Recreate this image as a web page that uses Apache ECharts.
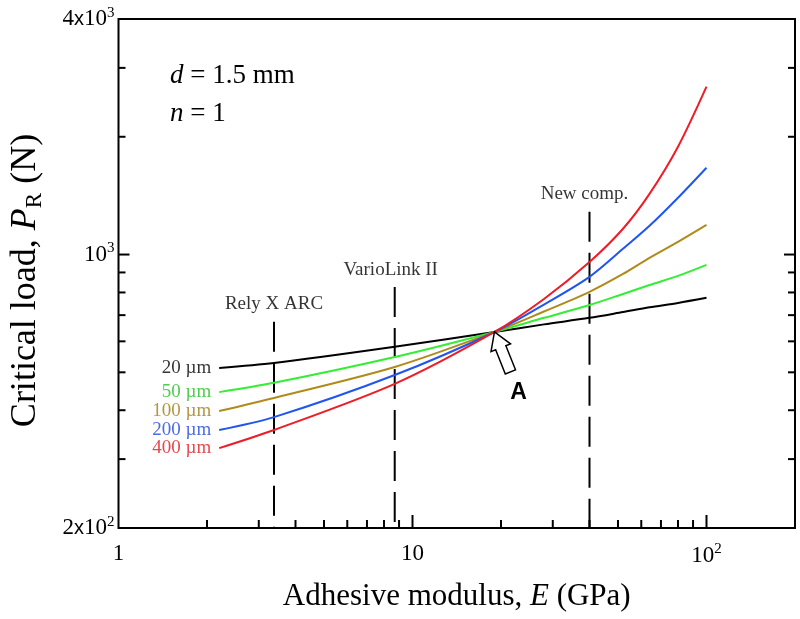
<!DOCTYPE html>
<html>
<head>
<meta charset="utf-8">
<script src="https://cdn.jsdelivr.net/npm/echarts@6/dist/echarts.min.js"></script>
<style>
html,body{margin:0;padding:0;background:#fff;}
#chart{width:800px;height:619px;}
</style>
</head>
<body>
<div id="chart"></div>
<script>
// ---- data ----
const modulusE = [2.2, 3.38, 8.7, 19, 28, 40, 52, 64, 80, 100];      // GPa
const load20  = [513, 528, 581, 634, 663, 689, 713, 733, 752, 775];
const load50  = [445, 470, 547, 634, 689, 743, 793, 836, 882, 941];
const load100 = [398, 430, 516, 634, 715, 803, 892, 981, 1078, 1191];
const load200 = [356, 384, 492, 634, 745, 877, 1034, 1184, 1397, 1667];
const load400 = [320, 356, 467, 634, 770, 957, 1164, 1429, 1886, 2686];
const seriesNames = ['20 \u00b5m', '50 \u00b5m', '100 \u00b5m', '200 \u00b5m', '400 \u00b5m'];
const seriesColors = ['#000000', '#33ee33', '#b08a1a', '#1f55f0', '#ee1c25'];
const labelColors = ['#000000', '#22c022', '#a07c14', '#1f45e0', '#e01820'];

const markerNames = ['Rely X ARC', 'VarioLink II', 'New comp.'];
const markerE = [3.38, 8.7, 40];
const markerTop = [673, 826, 1287];

const crossPoint = [19, 634];

const xRange = [1, 200];
const yRange = [200, 4000];
const xMinorTicks = [2,3,4,5,6,7,8,9,20,30,40,50,60,70,80,90];
const xMajorTicks = [10, 100];
const yMinorTicks = [300,400,500,600,700,800,900,2000,3000];
const yMajorTicks = [1000];
const xTickLabels = {1: '{b|1}', 10: '{b|10}', 100: '{b|10}{s|2}'};
const yTickLabels = {200: '{b|2}{x|x}{b|10}{s|2}', 1000: '{b|10}{s|3}', 4000: '{b|4}{x|x}{b|10}{s|3}'};

// ---- build ----
const SERIF = '"Liberation Serif","Times New Roman",serif';
const SANS = '"Liberation Sans",Arial,sans-serif';
const loads = [load20, load50, load100, load200, load400];

const tickData = [];
xMinorTicks.forEach(v => tickData.push([v, yRange[0], 8, 0]));
xMajorTicks.forEach(v => tickData.push([v, yRange[0], 13, 0]));
yMinorTicks.forEach(v => { tickData.push([xRange[0], v, 7, 1]); tickData.push([xRange[1], v, 7, 2]); });
yMajorTicks.forEach(v => { tickData.push([xRange[0], v, 11, 1]); tickData.push([xRange[1], v, 11, 2]); });

const labelRich = {
  b: {fontFamily: SERIF, fontSize: 23, color: '#000'},
  x: {fontFamily: SANS, fontSize: 20, color: '#000'},
  s: {fontFamily: SERIF, fontSize: 15, color: '#000', padding: [0, 0, 12, 0]}
};

const series = [];
loads.forEach((arr, i) => {
  series.push({
    type: 'line', name: seriesNames[i], smooth: 0.3, showSymbol: false, silent: true,
    data: modulusE.map((e, k) => [e, arr[k]]),
    lineStyle: {color: seriesColors[i], width: 2}, z: 5
  });
});
// left-side series labels
series.push({
  type: 'scatter', symbolSize: 0, silent: true,
  data: loads.map((arr, i) => ({
    value: [modulusE[0], arr[0]],
    label: {show: true, position: 'left', distance: 8, formatter: seriesNames[i],
            color: labelColors[i], fontFamily: SERIF, fontSize: 19}
  }))
});
// dashed product markers
markerE.forEach((e, i) => {
  series.push({
    type: 'line', showSymbol: false, silent: true,
    data: [[e, markerTop[i]], [e, yRange[0]]],
    lineStyle: {color: '#000', width: 2, type: [30, 11]}, z: 3
  });
});
const markerLabelOffset = [[0, 0], [-4, 0], [-5, 0]];
series.push({
  type: 'scatter', symbolSize: 0, silent: true,
  data: markerE.map((e, i) => ({
    value: [e, markerTop[i]],
    label: {show: true, position: 'top', distance: 8, offset: markerLabelOffset[i], formatter: markerNames[i],
            color: '#000', fontFamily: SERIF, fontSize: 19}
  }))
});
// axis ticks (inside, mirrored)
series.push({
  type: 'custom', silent: true, clip: false, z: 10,
  data: tickData,
  renderItem: function (params, api) {
    const kind = api.value(3), len = api.value(2);
    const p = api.coord([api.value(0), api.value(1)]);
    let shape;
    if (kind === 0) shape = {x1: p[0], y1: p[1], x2: p[0], y2: p[1] - len};
    else if (kind === 1) shape = {x1: p[0], y1: p[1], x2: p[0] + len, y2: p[1]};
    else shape = {x1: p[0], y1: p[1], x2: p[0] - len, y2: p[1]};
    return {type: 'line', shape: shape, style: {stroke: '#000', lineWidth: 2}};
  }
});

const chart = echarts.init(document.getElementById('chart'), null, {renderer: 'canvas'});
chart.setOption({
  animation: false,
  backgroundColor: '#fff',
  grid: {left: 117, right: 5, top: 19, bottom: 91, show: true, borderColor: '#000', borderWidth: 2, backgroundColor: 'transparent'},
  xAxis: {
    type: 'log', logBase: 10, min: xRange[0], max: xRange[1],
    axisLine: {show: false}, axisTick: {show: false}, splitLine: {show: false}, minorTick: {show: false},
    axisLabel: {margin: 14, rich: labelRich, formatter: v => xTickLabels[Math.round(v)] || ''},
    name: '{t|Adhesive modulus, }{i|E}{t| (GPa)}', nameLocation: 'middle', nameGap: 53,
    nameTextStyle: {rich: {
      t: {fontFamily: SERIF, fontSize: 31, color: '#000'},
      i: {fontFamily: SERIF, fontSize: 31, fontStyle: 'italic', color: '#000'}
    }}
  },
  yAxis: {
    type: 'log', logBase: 10, min: yRange[0], max: yRange[1],
    axisLine: {show: false}, axisTick: {show: false}, splitLine: {show: false}, minorTick: {show: false},
    axisLabel: {margin: 4, rich: labelRich, formatter: v => yTickLabels[Math.round(v)] || ''},
    name: '{t|Critical load, }{i|P}{s|R}{t| (N)}', nameLocation: 'middle', nameGap: 72, nameRotate: 90,
    nameTextStyle: {padding: [0, 14, 0, 0], rich: {
      t: {fontFamily: SERIF, fontSize: 36, color: '#000'},
      i: {fontFamily: SERIF, fontSize: 36, fontStyle: 'italic', color: '#000'},
      s: {fontFamily: SERIF, fontSize: 23, color: '#000', padding: [18, 0, 0, 0]}
    }}
  },
  series: series
});

// annotations
const tip = chart.convertToPixel({gridIndex: 0}, crossPoint);
const dir = [0.371, 0.928], perp = [0.928, -0.371];
const local = [[0,0],[10.5,17],[5.5,17],[5.5,43],[-5.5,43],[-5.5,17],[-10.5,17]];
const arrowPts = local.map(q => [tip[0] + dir[0]*q[1] + perp[0]*q[0], tip[1] + dir[1]*q[1] + perp[1]*q[0]]);
chart.setOption({
  graphic: [
    {type: 'text', left: 170, top: 62, style: {text: '{i|d}{t| = 1.5 mm}', rich: {
      i: {fontFamily: SERIF, fontSize: 27, fontStyle: 'italic', fill: '#000'},
      t: {fontFamily: SERIF, fontSize: 27, fill: '#000'}}}},
    {type: 'text', left: 170, top: 100, style: {text: '{i|n}{t| = 1}', rich: {
      i: {fontFamily: SERIF, fontSize: 27, fontStyle: 'italic', fill: '#000'},
      t: {fontFamily: SERIF, fontSize: 27, fill: '#000'}}}},
    {type: 'polygon', shape: {points: arrowPts}, style: {fill: '#fff', stroke: '#000', lineWidth: 1.5}, z: 20},
    {type: 'text', x: tip[0] + 24, y: tip[1] + 61, style: {text: 'A', fontFamily: SANS, fontWeight: 'bold', fontSize: 23, fill: '#000', align: 'center', verticalAlign: 'middle'}, z: 20}
  ]
});
</script>
</body>
</html>
